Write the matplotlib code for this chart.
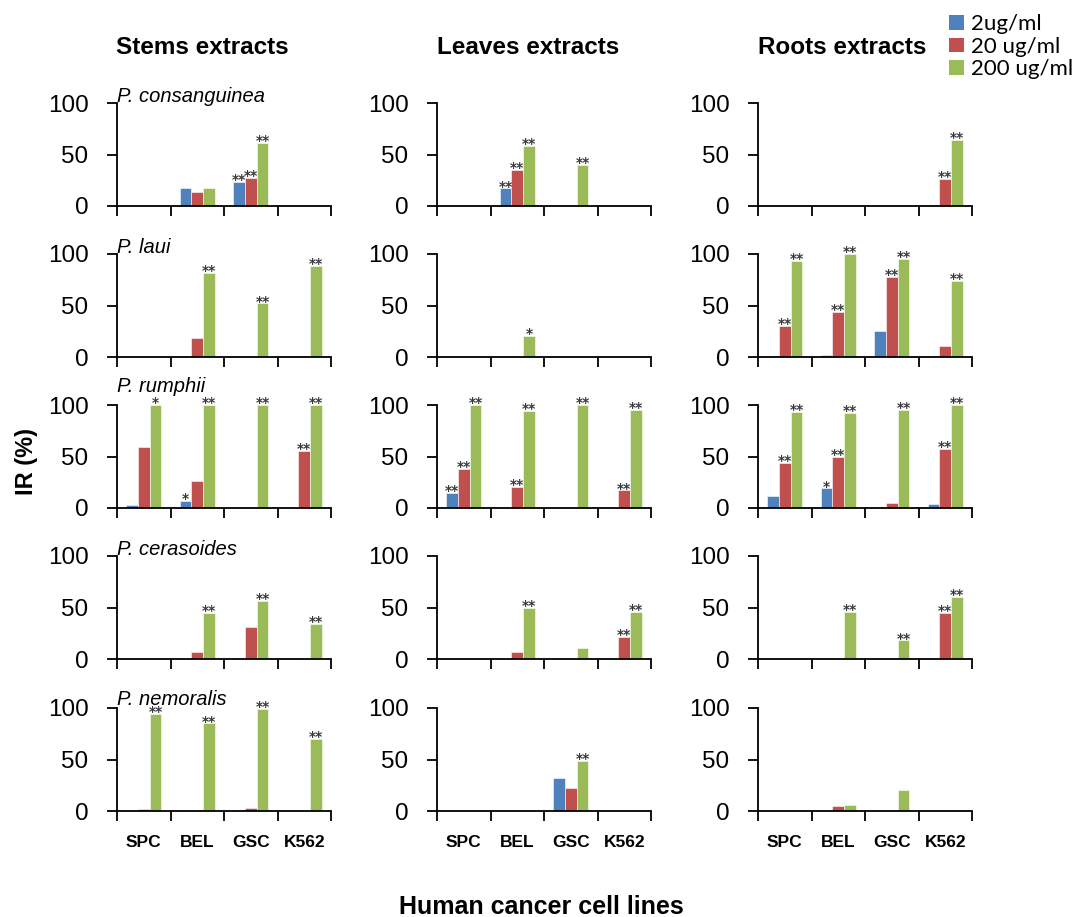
import matplotlib
matplotlib.use("Agg")
import matplotlib.pyplot as plt
from matplotlib.patches import Patch
import numpy as np

plt.rcParams['font.family'] = ['Liberation Sans', 'DejaVu Sans']

cell_lines = ["SPC", "BEL", "GSC", "K562"]
concentrations = ["2ug/ml", "20 ug/ml", "200 ug/ml"]
bar_colors = ["#4F81BD", "#C0504D", "#9BBB59"]
extracts = ["Stems extracts", "Leaves extracts", "Roots extracts"]
species = ["P. consanguinea", "P. laui", "P. rumphii", "P. cerasoides", "P. nemoralis"]

# IR (%) per concentration (2, 20, 200 ug/ml) x cell line
stems_consanguinea = [[0, 17, 23, 0], [0, 14, 27, 0], [0, 17, 61, 0]]
stems_laui = [[0, 0, 0, 0], [0, 18, 0, 0], [0, 82, 52, 88]]
stems_rumphii = [[3, 7, 0, 0], [59, 26, 0, 55], [100, 100, 100, 100]]
stems_cerasoides = [[0, 0, 0, 0], [0, 7, 31, 0], [0, 45, 56, 34]]
stems_nemoralis = [[0, 0, 0, 0], [1.5, 0, 2.5, 0], [94, 85, 99, 70]]

leaves_consanguinea = [[0, 17, 0, 0], [0, 35, 0, 0], [0, 58, 40, 0]]
leaves_laui = [[0, 0, 0, 0], [0, 0, 0, 0], [0, 20, 0, 0]]
leaves_rumphii = [[15, 0, 0, 0], [38, 20, 0, 17], [100, 94, 100, 95]]
leaves_cerasoides = [[0, 0, 0, 0], [0, 7, 0, 21], [0, 50, 11, 46]]
leaves_nemoralis = [[0, 0, 32, 0], [0, 0, 22, 0], [0, 0, 49, 0]]

roots_consanguinea = [[0, 0, 0, 0], [0, 0, 0, 26], [0, 0, 0, 64]]
roots_laui = [[1, 2, 25, 0], [30, 44, 78, 11], [93, 100, 95, 74]]
roots_rumphii = [[12, 19, 0, 4], [44, 50, 5, 57], [93, 92, 95, 100]]
roots_cerasoides = [[0, 0, 0, 0], [0, 0, 0, 45], [0, 46, 18, 60]]
roots_nemoralis = [[0, 0, 0, 0], [0, 5, 0, 0], [0, 6, 20, 0]]

# significance marks, same layout
stems_consanguinea_sig = [["", "", "**", ""], ["", "", "**", ""], ["", "", "**", ""]]
stems_laui_sig = [["", "", "", ""], ["", "", "", ""], ["", "**", "**", "**"]]
stems_rumphii_sig = [["", "*", "", ""], ["", "", "", "**"], ["*", "**", "**", "**"]]
stems_cerasoides_sig = [["", "", "", ""], ["", "", "", ""], ["", "**", "**", "**"]]
stems_nemoralis_sig = [["", "", "", ""], ["", "", "", ""], ["**", "**", "**", "**"]]

leaves_consanguinea_sig = [["", "**", "", ""], ["", "**", "", ""], ["", "**", "**", ""]]
leaves_laui_sig = [["", "", "", ""], ["", "", "", ""], ["", "*", "", ""]]
leaves_rumphii_sig = [["**", "", "", ""], ["**", "**", "", "**"], ["**", "**", "**", "**"]]
leaves_cerasoides_sig = [["", "", "", ""], ["", "", "", "**"], ["", "**", "", "**"]]
leaves_nemoralis_sig = [["", "", "", ""], ["", "", "", ""], ["", "", "**", ""]]

roots_consanguinea_sig = [["", "", "", ""], ["", "", "", "**"], ["", "", "", "**"]]
roots_laui_sig = [["", "", "", ""], ["**", "**", "**", ""], ["**", "**", "**", "**"]]
roots_rumphii_sig = [["", "*", "", ""], ["**", "**", "", "**"], ["**", "**", "**", "**"]]
roots_cerasoides_sig = [["", "", "", ""], ["", "", "", "**"], ["", "**", "**", "**"]]
roots_nemoralis_sig = [["", "", "", ""], ["", "", "", ""], ["", "", "", ""]]

panels = [
    [stems_consanguinea, leaves_consanguinea, roots_consanguinea],
    [stems_laui, leaves_laui, roots_laui],
    [stems_rumphii, leaves_rumphii, roots_rumphii],
    [stems_cerasoides, leaves_cerasoides, roots_cerasoides],
    [stems_nemoralis, leaves_nemoralis, roots_nemoralis],
]
panel_sigs = [
    [stems_consanguinea_sig, leaves_consanguinea_sig, roots_consanguinea_sig],
    [stems_laui_sig, leaves_laui_sig, roots_laui_sig],
    [stems_rumphii_sig, leaves_rumphii_sig, roots_rumphii_sig],
    [stems_cerasoides_sig, leaves_cerasoides_sig, roots_cerasoides_sig],
    [stems_nemoralis_sig, leaves_nemoralis_sig, roots_nemoralis_sig],
]

W, H = 1076, 917
fig = plt.figure(figsize=(W / 100, H / 100), dpi=100)

# layout in pixels
col_left = [117, 437, 758]
col_width = 214
row_zero = [206, 357, 508, 659, 811]
row_height = 103
title_x = [202, 528, 842]
label_y = [101, 101, 113, 101, 103]

x = np.arange(len(cell_lines)) + 0.5
bw = 0.22

for r in range(5):
    for c in range(3):
        ax = fig.add_axes([col_left[c] / W, 1 - row_zero[r] / H, col_width / W, row_height / H])
        vals = panels[r][c]
        sigs = panel_sigs[r][c]
        for k in range(3):
            xs = x + (k - 1) * bw
            ax.bar(xs, vals[k], width=bw, color=bar_colors[k], edgecolor="white", linewidth=0.4, zorder=2)
            for xi, v, s in zip(xs, vals[k], sigs[k]):
                if s:
                    ax.annotate(s, (xi, v), xytext=(0, -1.5), textcoords="offset points",
                                ha="center", va="baseline", fontsize=10, fontweight="bold",
                                family="DejaVu Sans", color="#3a3a3a", annotation_clip=False)
        ax.set_xlim(0, 4)
        ax.set_ylim(0, 100)
        for sp in ["top", "right"]:
            ax.spines[sp].set_visible(False)
        for sp in ["left", "bottom"]:
            ax.spines[sp].set_linewidth(1.3)
        ax.set_yticks([0, 50, 100])
        ax.tick_params(axis="y", direction="out", length=7.5, width=1.3, pad=13, labelsize=17.5)
        ax.set_xticks([0, 1, 2, 3, 4])
        ax.set_xticklabels([])
        ax.tick_params(axis="x", which="major", direction="out", length=7.5, width=1.3)
        ax.set_xticks(x, minor=True)
        if r == 4:
            ax.set_xticklabels(cell_lines, minor=True, fontsize=12.5, fontweight="bold")
            ax.tick_params(axis="x", which="minor", length=0, pad=17)
        else:
            ax.set_xticklabels([], minor=True)
            ax.tick_params(axis="x", which="minor", length=0)
        if c == 0:
            ax.text(0, label_y[r], species[r], fontsize=14.5, fontstyle="italic",
                    ha="left", va="baseline", zorder=3)

for c in range(3):
    fig.text(title_x[c] / W, 1 - 47 / H, extracts[c], fontsize=17.5, fontweight="bold",
             ha="center", va="center")

fig.text(27 / W, 1 - 462 / H, "IR (%)", fontsize=17, fontweight="bold",
         rotation=90, ha="center", va="center")
fig.text(541 / W, 1 - 907 / H, "Human cancer cell lines", fontsize=18, fontweight="bold",
         ha="center", va="center")

handles = [Patch(facecolor=col, edgecolor="none") for col in bar_colors]
fig.legend(handles, concentrations, loc="upper left", bbox_to_anchor=(938 / W, 1 - 3 / H),
           frameon=False, borderpad=0, handlelength=0.65, handleheight=0.65,
           handletextpad=0.35, labelspacing=0.12,
           prop={"family": "Lato", "size": 16})

fig.savefig("out.png", dpi=100)
